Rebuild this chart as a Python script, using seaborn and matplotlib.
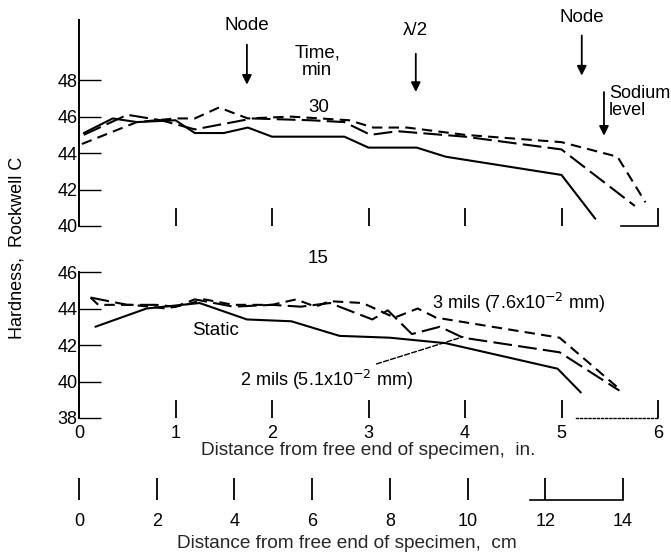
import numpy as np
import pandas as pd
import matplotlib.pyplot as plt
import seaborn as sns

# --- data (x in inches, hardness in Rockwell C) ---
# upper panel: 30 min
top_static_x = [0.05, 0.35, 0.6, 1.0, 1.2, 1.5, 1.75, 2.0, 2.75, 3.0, 3.5, 3.8, 5.0, 5.35]
top_static_y = [45.1, 45.9, 45.7, 45.8, 45.1, 45.1, 45.4, 44.9, 44.9, 44.3, 44.3, 43.8, 42.8, 40.4]
top_2mil_x = [0.05, 0.5, 0.85, 1.2, 1.5, 1.8, 2.4, 2.75, 3.02, 3.3, 4.0, 5.0, 5.76]
top_2mil_y = [45.0, 46.1, 45.8, 45.3, 45.6, 45.9, 45.8, 45.7, 45.0, 45.2, 44.9, 44.2, 41.1]
top_3mil_x = [0.03, 0.6, 1.0, 1.2, 1.45, 1.75, 2.2, 2.8, 3.05, 3.4, 4.0, 5.0, 5.58, 5.87]
top_3mil_y = [44.5, 45.7, 45.9, 45.9, 46.5, 45.9, 46.0, 45.8, 45.4, 45.4, 45.0, 44.6, 43.8, 41.3]

# lower panel: 15 min
bot_static_x = [0.17, 0.7, 1.25, 1.74, 2.2, 2.7, 3.22, 3.8, 4.96, 5.2]
bot_static_y = [43.0, 44.0, 44.3, 43.4, 43.3, 42.5, 42.4, 42.1, 40.7, 39.4]
bot_2mil_x = [0.12, 0.5, 0.8, 1.0, 1.2, 1.6, 2.0, 2.3, 2.6, 3.04, 3.2, 3.45, 3.74, 3.98, 4.98, 5.6]
bot_2mil_y = [44.6, 44.2, 44.2, 44.1, 44.5, 44.1, 44.2, 44.1, 44.3, 43.4, 43.9, 42.6, 43.0, 42.4, 41.6, 39.5]
bot_3mil_x = [0.12, 0.2, 0.55, 0.9, 1.1, 1.3, 1.6, 2.0, 2.25, 2.45, 2.6, 2.94, 3.27, 3.51, 3.7, 4.98, 5.62]
bot_3mil_y = [44.6, 44.2, 44.2, 44.0, 44.2, 44.5, 44.2, 44.2, 44.5, 44.1, 44.4, 44.3, 43.5, 44.0, 43.5, 42.4, 39.5]

inch_ticks = [0, 1, 2, 3, 4, 5, 6]
cm_ticks = [0, 2, 4, 6, 8, 10, 12, 14]


def panel_frame(sx, sy, x2, y2, x3, y3):
    parts = [pd.DataFrame({'x': sx, 'y': sy, 'series': 'Static'}),
             pd.DataFrame({'x': x2, 'y': y2, 'series': '2 mils'}),
             pd.DataFrame({'x': x3, 'y': y3, 'series': '3 mils'})]
    return pd.concat(parts, ignore_index=True)


df_top = panel_frame(top_static_x, top_static_y, top_2mil_x, top_2mil_y, top_3mil_x, top_3mil_y)
df_bot = panel_frame(bot_static_x, bot_static_y, bot_2mil_x, bot_2mil_y, bot_3mil_x, bot_3mil_y)

sns.set_style('white', {'axes.edgecolor': 'black', 'text.color': 'black',
                        'xtick.color': 'black', 'ytick.color': 'black',
                        'xtick.bottom': True, 'ytick.left': True})
plt.rcParams['font.family'] = ['Liberation Sans', 'DejaVu Sans']
plt.rcParams['font.size'] = 13

dash_map = {'Static': '', '2 mils': (9, 3), '3 mils': (5, 3)}

fig = plt.figure(figsize=(6.71, 5.56), dpi=100)
W, H = 671, 556
left, width = 79 / W, 579 / W
ax1 = fig.add_axes([left, 1 - 226 / H, width, 206 / H])
ax2 = fig.add_axes([left, 1 - 418 / H, width, 146 / H])
ax3 = fig.add_axes([left, 1 - 500 / H, width, 2 / H])

for ax, df in [(ax1, df_top), (ax2, df_bot)]:
    sns.lineplot(data=df, x='x', y='y', style='series', dashes=dash_map, color='black',
                 linewidth=1.5, estimator=None, sort=False, legend=False, ax=ax)
    ax.set_xlim(0, 6)
    ax.set_xlabel('')
    ax.set_ylabel('')
    ax.spines['top'].set_visible(False)
    ax.spines['right'].set_visible(False)
    ax.spines['left'].set_linewidth(1.4)
    ax.tick_params(axis='y', left=True, direction='in', length=16, width=1.0, pad=1,
                   labelsize=13, colors='black')
    ax.tick_params(axis='x', bottom=True, direction='in', length=13, width=1.3, colors='black')

# upper panel axes
ax1.set_ylim(40, 51.3)
ax1.set_yticks([40, 42, 44, 46, 48])
ax1.spines['left'].set_bounds(40, 51.3)
ax1.set_xticks(inch_ticks[1:])
ax1.tick_params(axis='x', labelbottom=False)
ax1.spines['bottom'].set_bounds(5.62, 6)
ax1.spines['bottom'].set_linewidth(1.2)

# lower panel axes
ax2.set_ylim(38, 46)
ax2.set_yticks([38, 40, 42, 44, 46])
ax2.set_xticks(inch_ticks)
ax2.set_xticklabels([str(t) for t in inch_ticks], fontsize=13)
ax2.tick_params(axis='x', pad=5)
ax2.spines['bottom'].set_bounds(5.15, 6)
ax2.spines['bottom'].set_linestyle((0, (1.5, 1.5)))
ax2.spines['bottom'].set_linewidth(1.0)
ax2.set_xlabel('Distance from free end of specimen,  in.', fontsize=13.7, labelpad=0)

# centimetre scale
ax3.set_xlim(0, 14.9)
ax3.set_yticks([])
for s in ['top', 'right', 'left']:
    ax3.spines[s].set_visible(False)
ax3.spines['bottom'].set_bounds(11.6, 14)
ax3.spines['bottom'].set_linewidth(1.2)
ax3.set_xticks(cm_ticks)
ax3.set_xticklabels([str(t) for t in cm_ticks], fontsize=13)
ax3.tick_params(axis='x', bottom=True, direction='in', length=16, width=1.3, pad=9,
                colors='black')
ax3.set_xlabel('Distance from free end of specimen,  cm', fontsize=13.7)
ax3.xaxis.set_label_coords((347 - 79) / 579, -17.5)

# annotations, upper panel
arrow = dict(arrowstyle='-|>', color='black', lw=1.3, mutation_scale=14)
ax1.annotate('', xy=(1.74, 47.6), xytext=(1.74, 50.1), arrowprops=arrow)
ax1.text(1.74, 51.0, 'Node', ha='center', va='center', fontsize=13.5)
ax1.annotate('', xy=(3.49, 47.2), xytext=(3.49, 49.6), arrowprops=arrow)
ax1.text(3.49, 50.7, 'λ/2', ha='center', va='center', fontsize=13.5)
ax1.annotate('', xy=(5.21, 48.1), xytext=(5.21, 50.6), arrowprops=arrow)
ax1.text(5.21, 51.45, 'Node', ha='center', va='center', fontsize=13.5, clip_on=False)
ax1.annotate('', xy=(5.44, 44.8), xytext=(5.44, 47.5), arrowprops=arrow)
ax1.text(5.49, 46.8, 'Sodium\nlevel', ha='left', va='center', fontsize=13, linespacing=1.0)
ax1.text(2.47, 49.0, 'Time,\nmin', ha='center', va='center', fontsize=13.5, linespacing=1.0)
ax1.text(2.48, 46.5, '30', ha='center', va='center', fontsize=13.5)

# annotations, lower panel
ax2.text(2.48, 46.75, '15', ha='center', va='center', fontsize=13.5, clip_on=False)
ax2.text(1.41, 42.8, 'Static', ha='center', va='center', fontsize=13.5)
ax2.text(3.66, 44.3, '3 mils (7.6x10$^{-2}$ mm)', ha='left', va='center', fontsize=13)
ax2.annotate('2 mils (5.1x10$^{-2}$ mm)', xy=(3.98, 42.45), xytext=(3.46, 40.1),
             ha='right', va='center', fontsize=13,
             arrowprops=dict(arrowstyle='-', color='black', lw=1.0, linestyle='--',
                             shrinkA=1, shrinkB=0))

fig.text(0.026, 1 - 248 / H, 'Hardness,  Rockwell C', rotation=90, ha='center', va='center',
         fontsize=13)

plt.savefig('out.png', dpi=100)
